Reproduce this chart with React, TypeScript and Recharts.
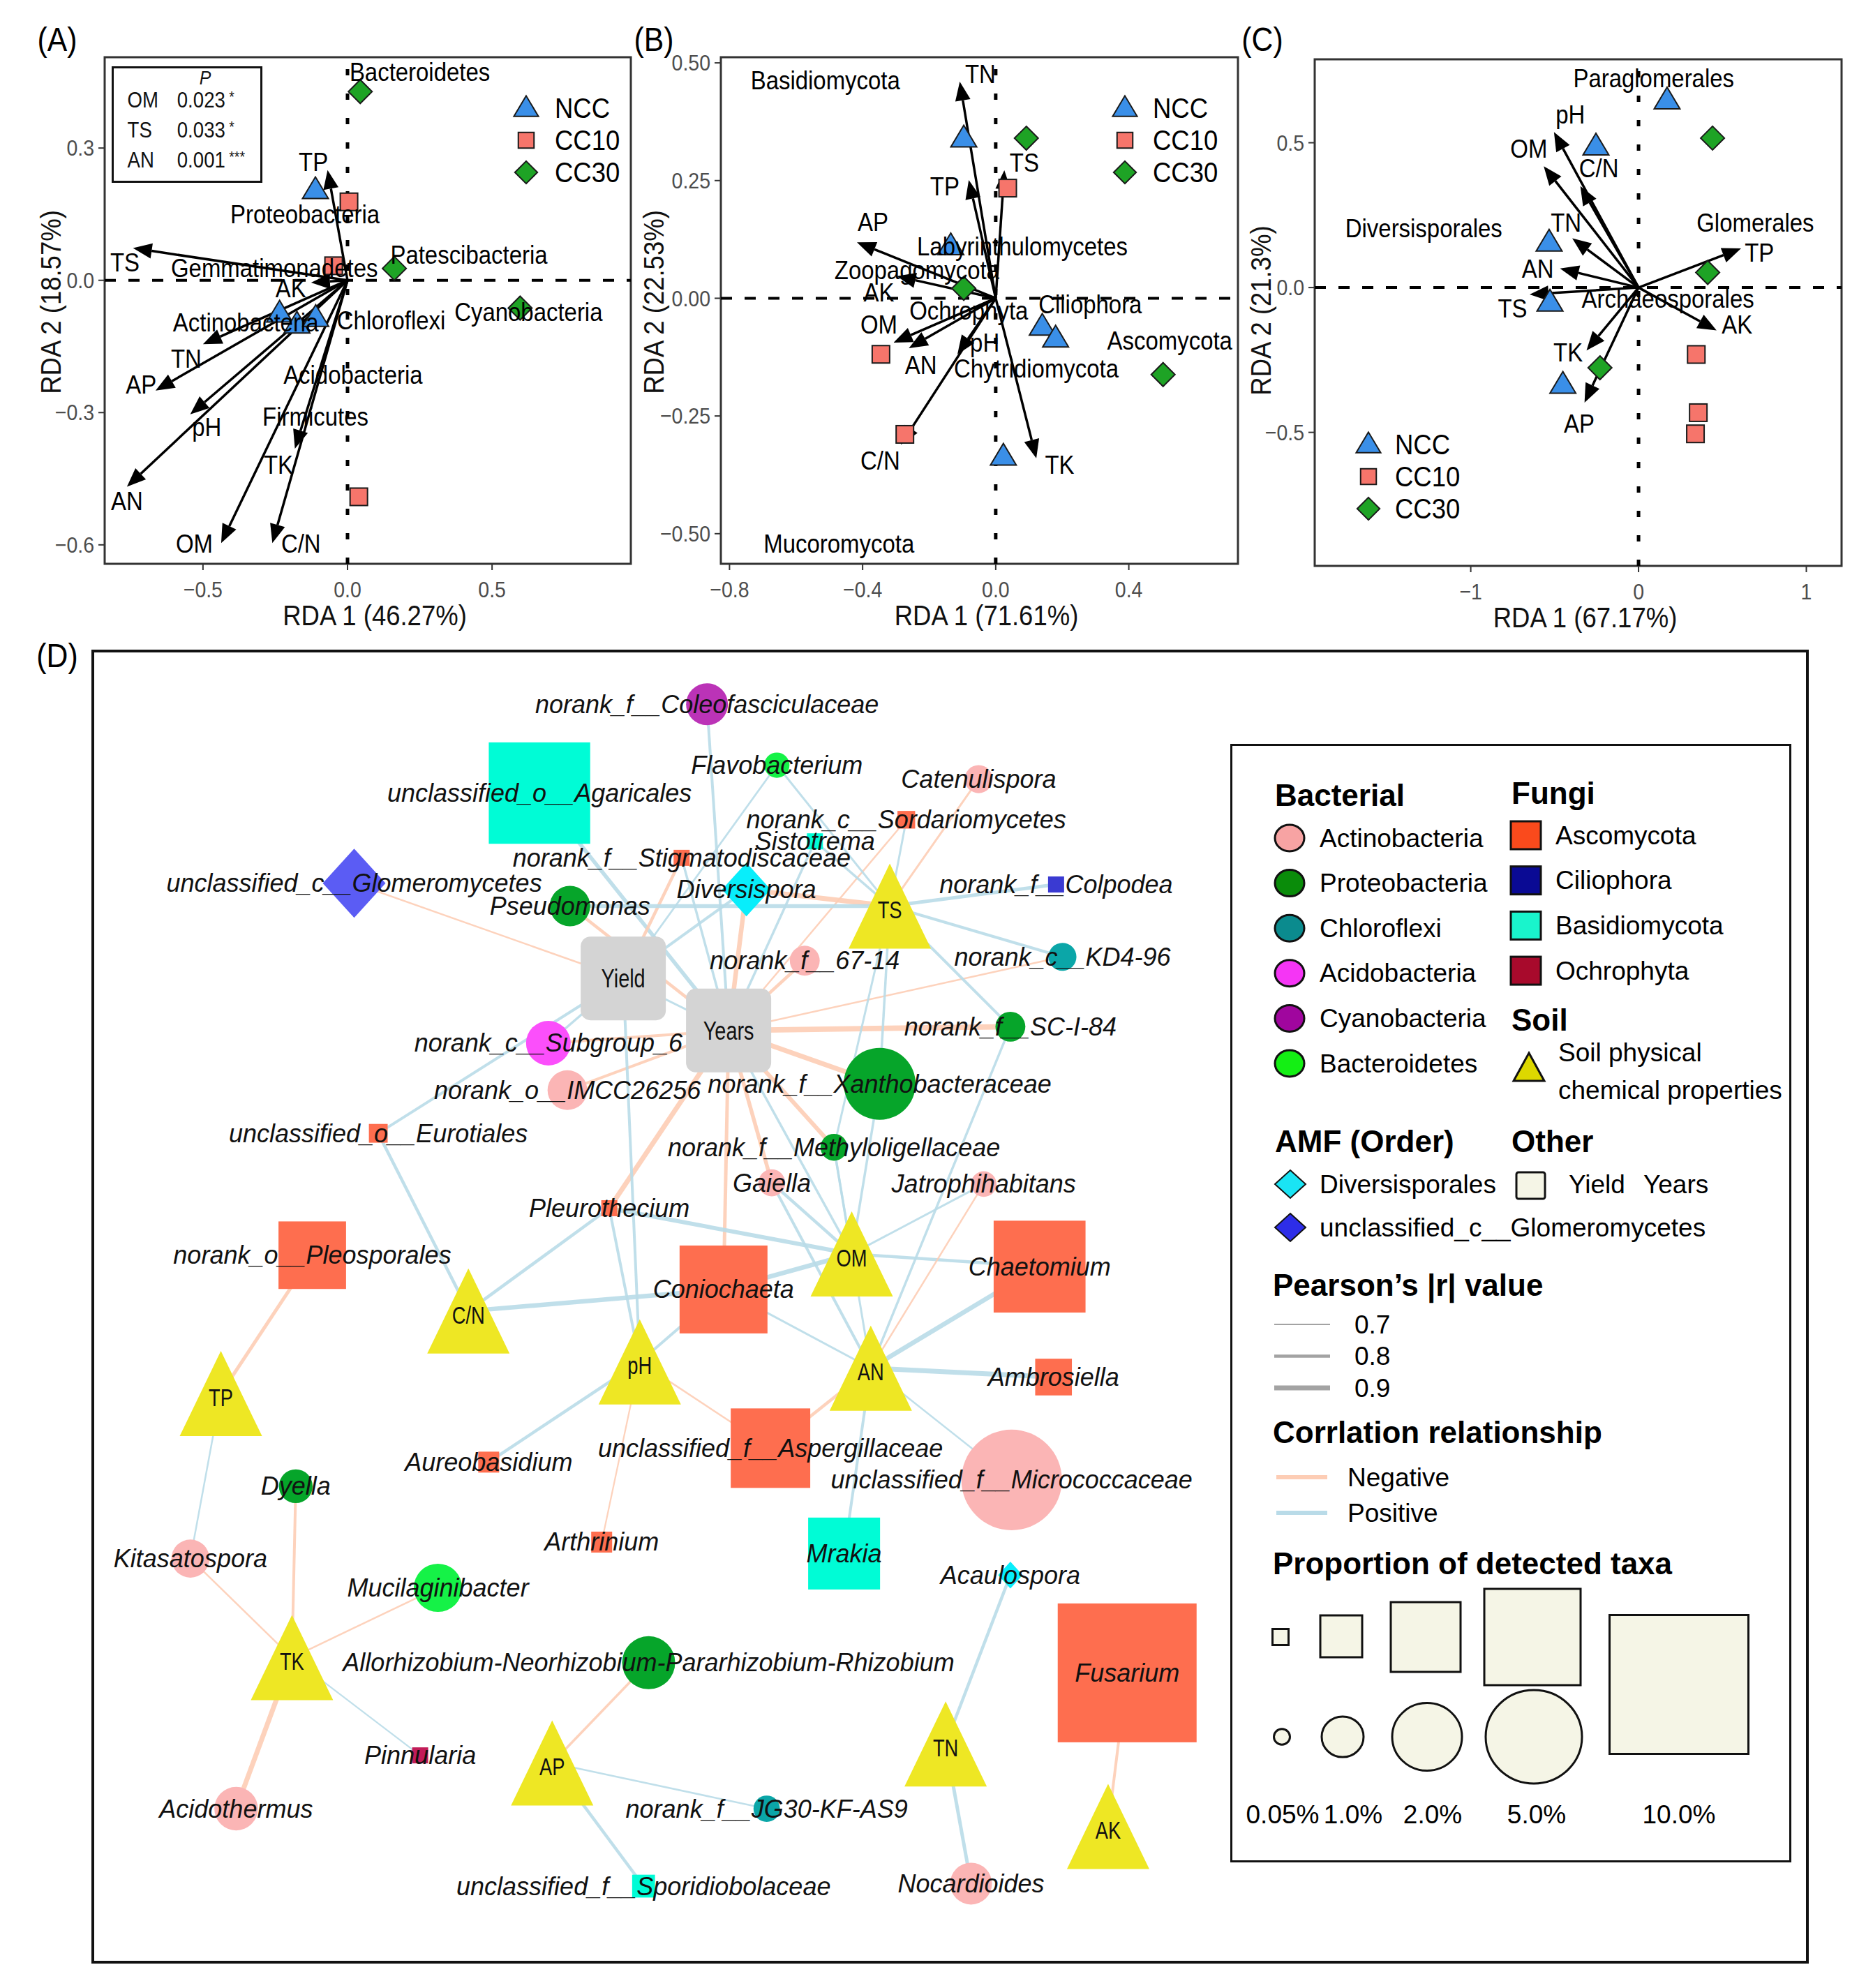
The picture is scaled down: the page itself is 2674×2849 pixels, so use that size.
import React from 'react'
import { Legend, ReferenceArea, ReferenceLine, Scatter, ScatterChart, XAxis, YAxis } from 'recharts'

const FONT = "'Liberation Sans', Arial, sans-serif"
const SX = 0.89 // the RDA panels are set in a slightly condensed face

type Pt = [number, number]
type Named = [string, number, number]

// ---------- (A) bacterial phyla RDA ----------
const A_NCC: Pt[] = [[-0.111, 0.205], [-0.235, -0.075], [-0.175, -0.1], [-0.11, -0.085]]
const A_CC10: Pt[] = [[0.005, 0.178], [-0.048, 0.033], [0.039, -0.491]]
const A_CC30: Pt[] = [[0.044, 0.428], [0.162, 0.027], [0.597, -0.063]]
const A_ARROWS: Named[] = [
  ['TP', -0.069, 0.25], ['TS', -0.742, 0.073], ['AK', -0.126, -0.005], ['TN', -0.5, -0.145], ['AP', -0.664, -0.25],
  ['pH', -0.544, -0.304], ['AN', -0.763, -0.468], ['OM', -0.437, -0.596], ['C/N', -0.26, -0.596], ['TK', -0.182, -0.382],
]
const A_ARROW_LABELS: Named[] = [
  ['TP', -0.118, 0.269], ['TS', -0.77, 0.041], ['AK', -0.196, -0.018], ['TN', -0.558, -0.177], ['AP', -0.714, -0.236],
  ['pH', -0.487, -0.332], ['AN', -0.763, -0.5], ['OM', -0.53, -0.596], ['C/N', -0.161, -0.596], ['TK', -0.239, -0.418],
]
const A_TAXA: Named[] = [
  ['Bacteroidetes', 0.25, 0.473], ['Proteobacteria', -0.147, 0.15], ['Patescibacteria', 0.42, 0.059],
  ['Gemmatimonadetes', -0.253, 0.028], ['Chloroflexi', 0.151, -0.091], ['Cyanobacteria', 0.626, -0.072],
  ['Actinobacteria', -0.352, -0.095], ['Acidobacteria', 0.019, -0.213], ['Firmicutes', -0.111, -0.309],
]
const A_PVALUES: [string, string, string][] = [['OM', '0.023', '*'], ['TS', '0.033', '*'], ['AN', '0.001', '***']]

// ---------- (B) fungal phyla RDA ----------
const B_NCC: Pt[] = [[-0.096, 0.34], [-0.135, 0.111], [0.14, -0.06], [0.18, -0.085], [0.023, -0.336]]
const B_CC10: Pt[] = [[0.036, 0.234], [-0.345, -0.119], [-0.273, -0.289]]
const B_CC30: Pt[] = [[0.092, 0.34], [-0.096, 0.021], [0.503, -0.162]]
const B_ARROWS: Named[] = [
  ['TN', -0.108, 0.46], ['TP', -0.081, 0.251], ['TS', 0.026, 0.272], ['AP', -0.417, 0.119], ['AK', -0.297, 0.047],
  ['OM', -0.307, -0.094], ['AN', -0.261, -0.106], ['pH', -0.115, -0.119], ['C/N', -0.285, -0.311], ['TK', 0.122, -0.34],
]
const B_ARROW_LABELS: Named[] = [
  ['TN', -0.046, 0.477], ['TS', 0.086, 0.289], ['TP', -0.153, 0.238], ['AP', -0.369, 0.162], ['AK', -0.351, 0.013],
  ['OM', -0.351, -0.055], ['pH', -0.033, -0.094], ['AN', -0.225, -0.142], ['C/N', -0.347, -0.345], ['TK', 0.192, -0.353],
]
const B_TAXA: Named[] = [
  ['Basidiomycota', -0.512, 0.464], ['Labyrinthulomycetes', 0.08, 0.111], ['Zoopagomycota', -0.237, 0.06],
  ['Ochrophyta', -0.081, -0.026], ['Ciliophora', 0.284, -0.013], ['Ascomycota', 0.523, -0.089],
  ['Chytridiomycota', 0.122, -0.149], ['Mucoromycota', -0.471, -0.52],
]

// ---------- (C) AMF orders RDA ----------
const C_NCC: Pt[] = [[0.17, 0.647], [-0.254, 0.488], [-0.533, 0.156], [-0.528, -0.051], [-0.451, -0.335]]
const C_CC10: Pt[] = [[0.344, -0.231], [0.356, -0.432], [0.339, -0.505]]
const C_CC30: Pt[] = [[0.441, 0.516], [0.412, 0.052], [-0.23, -0.277]]
const C_ARROWS: Named[] = [
  ['pH', -0.504, 0.537], ['OM', -0.565, 0.419], ['C/N', -0.347, 0.35], ['TN', -0.395, 0.17], ['AN', -0.468, 0.066],
  ['TS', -0.649, -0.024], ['TK', -0.31, -0.217], ['AP', -0.322, -0.397], ['AK', 0.465, -0.148], ['TP', 0.611, 0.135],
]
const C_ARROW_LABELS: Named[] = [
  ['pH', -0.407, 0.599], ['OM', -0.654, 0.481], ['C/N', -0.237, 0.412], ['TN', -0.432, 0.225], ['TP', 0.72, 0.122],
  ['AN', -0.601, 0.066], ['TS', -0.751, -0.072], ['AK', 0.587, -0.127], ['TK', -0.42, -0.224], ['AP', -0.354, -0.47],
]
const C_TAXA: Named[] = [
  ['Paraglomerales', 0.09, 0.723], ['Diversisporales', -1.28, 0.205], ['Glomerales', 0.696, 0.225], ['Archaeosporales', 0.175, -0.037],
]

const TREATMENTS = ['NCC', 'CC10', 'CC30']
const TREAT_FILL: Record<string, string> = { NCC: '#3a8fe8', CC10: '#f6756b', CC30: '#1ea325' }

// ---------- (D) co-occurrence network ----------
// [key, label, group, layoutX, layoutY, proportion %]
const D_NODES: [string, string, string, number, number, number][] = [
  ['coleo', 'norank_f__Coleofasciculaceae', 'Cya', 557, 555, 1.0],
  ['flavo', 'Flavobacterium', 'Bac', 612, 603, 0.39],
  ['caten', 'Catenulispora', 'Act', 771, 614, 0.49],
  ['sordar', 'norank_c__Sordariomycetes', 'Asc', 714, 646, 0.11],
  ['sisto', 'Sistotrema', 'Bas', 642, 663, 0.05],
  ['stigma', 'norank_f__Stigmatodiscaceae', 'Asc', 537, 676, 0.05],
  ['agari', 'unclassified_o__Agaricales', 'Bas', 425, 625, 5.6],
  ['glomero', 'unclassified_c__Glomeromycetes', 'Glo', 279, 696, 1.75],
  ['pseudo', 'Pseudomonas', 'Pro', 449, 714, 0.95],
  ['divers', 'Diversispora', 'Div', 588, 701, 1.25],
  ['TS', 'TS', 'Soil', 701, 714, 0],
  ['colpo', 'norank_f__Colpodea', 'Cil', 832, 697, 0.05],
  ['Yield', 'Yield', 'Other', 491, 771, 0],
  ['f6714', 'norank_f__67-14', 'Act', 634, 757, 0.56],
  ['kd496', 'norank_c__KD4-96', 'Chl', 837, 754, 0.49],
  ['Years', 'Years', 'Other', 574, 812, 0],
  ['sci84', 'norank_f__SC-I-84', 'Pro', 796, 809, 0.56],
  ['subg6', 'norank_c__Subgroup_6', 'Aci', 432, 822, 1.1],
  ['xantho', 'norank_f__Xanthobacteraceae', 'Pro', 693, 854, 2.24],
  ['imcc', 'norank_o__IMCC26256', 'Act', 447, 859, 0.92],
  ['eurot', 'unclassified_o__Eurotiales', 'Asc', 298, 893, 0.15],
  ['methyl', 'norank_f__Methyloligellaceae', 'Pro', 657, 904, 0.45],
  ['gaiella', 'Gaiella', 'Act', 608, 932, 0.45],
  ['jatro', 'Jatrophihabitans', 'Act', 775, 933, 0.4],
  ['pleuro', 'Pleurothecium', 'Asc', 480, 952, 0.05],
  ['pleosp', 'norank_o__Pleosporales', 'Asc', 246, 989, 1.92],
  ['CN', 'C/N', 'Soil', 369, 1033, 0],
  ['conio', 'Coniochaeta', 'Asc', 570, 1016, 4.05],
  ['OM', 'OM', 'Soil', 671, 988, 0],
  ['chaeto', 'Chaetomium', 'Asc', 819, 998, 4.5],
  ['TP', 'TP', 'Soil', 174, 1098, 0],
  ['pH', 'pH', 'Soil', 504, 1073, 0],
  ['AN', 'AN', 'Soil', 686, 1078, 0],
  ['ambro', 'Ambrosiella', 'Asc', 830, 1085, 0.81],
  ['asper', 'unclassified_f__Aspergillaceae', 'Asc', 607, 1141, 3.1],
  ['micro', 'unclassified_f__Micrococcaceae', 'Act', 797, 1166, 5.5],
  ['aureo', 'Aureobasidium', 'Asc', 385, 1152, 0.23],
  ['dyella', 'Dyella', 'Pro', 233, 1171, 0.7],
  ['kitas', 'Kitasatospora', 'Act', 150, 1228, 0.86],
  ['arthr', 'Arthrinium', 'Asc', 474, 1215, 0.23],
  ['mrakia', 'Mrakia', 'Bas', 665, 1224, 2.24],
  ['acaul', 'Acaulospora', 'Div', 796, 1241, 0.36],
  ['mucil', 'Mucilaginibacter', 'Bac', 345, 1251, 1.23],
  ['fusar', 'Fusarium', 'Asc', 888, 1318, 10],
  ['TK', 'TK', 'Soil', 230, 1306, 0],
  ['allor', 'Allorhizobium-Neorhizobium-Pararhizobium-Rhizobium', 'Pro', 511, 1310, 1.4],
  ['pinnu', 'Pinnularia', 'Och', 331, 1383, 0.05],
  ['AP', 'AP', 'Soil', 435, 1389, 0],
  ['TN', 'TN', 'Soil', 745, 1374, 0],
  ['acido', 'Acidothermus', 'Act', 186, 1425, 1.06],
  ['jg30', 'norank_f__JG30-KF-AS9', 'Chl', 604, 1425, 0.43],
  ['AK', 'AK', 'Soil', 873, 1439, 0],
  ['sporid', 'unclassified_f__Sporidiobolaceae', 'Bas', 507, 1486, 0.3],
  ['nocar', 'Nocardioides', 'Act', 765, 1484, 1.0],
]

// [from, to, Pearson r]
const D_EDGES: [string, string, number][] = [
  ['Years', 'sci84', -0.93], ['Years', 'xantho', -0.9], ['Years', 'methyl', -0.86], ['Years', 'conio', -0.82],
  ['Years', 'pleuro', -0.9], ['Years', 'kd496', -0.72], ['Years', 'divers', -0.88], ['Years', 'f6714', -0.8],
  ['Years', 'pseudo', -0.8], ['Years', 'subg6', -0.78], ['Years', 'imcc', -0.78], ['Years', 'sordar', -0.72],
  ['Years', 'gaiella', -0.84], ['Years', 'coleo', 0.78], ['Years', 'agari', 0.84], ['Years', 'sisto', 0.76],
  ['Years', 'stigma', 0.76], ['Years', 'OM', 0.76], ['Years', 'Yield', 0.74],
  ['Yield', 'glomero', -0.72], ['Yield', 'stigma', -0.8], ['Yield', 'divers', 0.78], ['Yield', 'eurot', 0.78],
  ['Yield', 'subg6', 0.76], ['Yield', 'pH', 0.78], ['Yield', 'flavo', 0.73],
  ['TS', 'divers', -0.9], ['TS', 'pseudo', 0.84], ['TS', 'colpo', 0.82], ['TS', 'kd496', 0.78], ['TS', 'sci84', 0.78],
  ['TS', 'flavo', 0.74], ['TS', 'caten', -0.74], ['TS', 'sisto', 0.76], ['TS', 'sordar', 0.74], ['TS', 'xantho', 0.76],
  ['TS', 'methyl', 0.74],
  ['OM', 'conio', 0.88], ['OM', 'chaeto', 0.8], ['OM', 'gaiella', 0.8], ['OM', 'xantho', 0.76], ['OM', 'pleuro', 0.86],
  ['OM', 'methyl', 0.76], ['OM', 'jatro', 0.74],
  ['AN', 'ambro', 0.9], ['AN', 'chaeto', 0.88], ['AN', 'asper', -0.8], ['AN', 'mrakia', 0.78], ['AN', 'micro', 0.72],
  ['AN', 'conio', 0.74], ['AN', 'gaiella', 0.78], ['AN', 'jatro', -0.72], ['AN', 'sci84', 0.76], ['AN', 'methyl', 0.74],
  ['pH', 'conio', 0.78], ['pH', 'aureo', 0.8], ['pH', 'pleuro', 0.78], ['pH', 'asper', -0.72], ['pH', 'arthr', -0.71],
  ['CN', 'conio', 0.88], ['CN', 'eurot', 0.8], ['CN', 'pleuro', 0.8],
  ['TP', 'pleosp', -0.82], ['TP', 'kitas', 0.72],
  ['TK', 'dyella', -0.78], ['TK', 'kitas', -0.72], ['TK', 'mucil', -0.72], ['TK', 'acido', -0.9], ['TK', 'pinnu', 0.71],
  ['AP', 'allor', -0.76], ['AP', 'jg30', 0.72], ['AP', 'sporid', 0.8],
  ['TN', 'acaul', 0.8], ['TN', 'nocar', 0.82], ['AK', 'fusar', -0.78],
]

const BACT_GROUPS: [string, string][] = [
  ['Actinobacteria', 'Act'], ['Proteobacteria', 'Pro'], ['Chloroflexi', 'Chl'],
  ['Acidobacteria', 'Aci'], ['Cyanobacteria', 'Cya'], ['Bacteroidetes', 'Bac'],
]
const FUNGI_GROUPS: [string, string][] = [['Ascomycota', 'Asc'], ['Ciliophora', 'Cil'], ['Basidiomycota', 'Bas'], ['Ochrophyta', 'Och']]
const AMF_GROUPS: [string, string][] = [['Diversisporales', 'Div'], ['unclassified_c__Glomeromycetes', 'Glo']]
const R_LEVELS = [0.7, 0.8, 0.9]
const PCT_LEVELS = [0.05, 1, 2, 5, 10]

const NODE_FILL: Record<string, string> = {
  Act: '#fbb5b5', Pro: '#06a52a', Chl: '#0ba6a8', Aci: '#fb4ffb', Cya: '#bb33b7', Bac: '#15f247',
  Asc: '#fe6e4f', Cil: '#3a3ad2', Bas: '#00fcd6', Och: '#c21c58', Div: '#08eefb', Glo: '#5b5cf4',
  Soil: '#eee724', Other: '#d4d4d4',
}
const KEY_FILL: Record<string, string> = {
  Act: '#f7a3a3', Pro: '#0a8c0a', Chl: '#0b8b8e', Aci: '#f535f5', Cya: '#a0069e', Bac: '#14ef14',
  Asc: '#fa4a1c', Cil: '#0a0a94', Bas: '#19f4cc', Och: '#a80a2c', Div: '#1ae4f4', Glo: '#2d2de8',
}
const POS = '#b9dbe8'
const NEG = '#fdcdb5'

// size scale for "Proportion of detected taxa" (px)
const PX_STOPS = [23, 60, 100, 138, 199]
function sizeOf(p: number) {
  if (p <= PCT_LEVELS[0]) return PX_STOPS[0]
  for (let i = 1; i < PCT_LEVELS.length; i++) {
    if (p <= PCT_LEVELS[i]) {
      const t = (p - PCT_LEVELS[i - 1]) / (PCT_LEVELS[i] - PCT_LEVELS[i - 1])
      return PX_STOPS[i - 1] + t * (PX_STOPS[i] - PX_STOPS[i - 1])
    }
  }
  return PX_STOPS[PX_STOPS.length - 1]
}
const edgeWidth = (r: number) => 2 + ((Math.abs(r) - 0.7) / 0.2) * 5

const fmt = (d: number) => (v: number) => (v < 0 ? '\u2212' : '') + Math.abs(v).toFixed(d)
const toPts = (a: Pt[]) => a.map(([x, y]) => ({ x, y }))
const toNamed = (a: Named[]) => a.map(([name, x, y]) => ({ name, x, y }))

// condensed svg text: drawn at the origin and squeezed horizontally
function NText({ x, y, size, children, anchor = 'middle', sx = SX, fill = '#000', rotate = 0, italic = false, bold = false }: any) {
  return (
    <text transform={`translate(${x},${y}) rotate(${rotate}) scale(${sx},1)`} x={0} y={0} textAnchor={anchor}
      dominantBaseline="central" fontSize={size} fontFamily={FONT} fill={fill}
      fontStyle={italic ? 'italic' : 'normal'} fontWeight={bold ? 'bold' : 'normal'}>
      {children}
    </text>
  )
}

function treatSymbol(t: string, cx: number, cy: number, k = 1) {
  if (t === 'NCC') {
    const w = 37 * k, h = 31 * k
    return <polygon points={`${cx},${cy - h * 0.6} ${cx - w / 2},${cy + h * 0.4} ${cx + w / 2},${cy + h * 0.4}`} fill={TREAT_FILL.NCC} stroke="#1a1a1a" strokeWidth={2} />
  }
  if (t === 'CC10') {
    const s = 25 * k
    return <rect x={cx - s / 2} y={cy - s / 2} width={s} height={s} fill={TREAT_FILL.CC10} stroke="#1a1a1a" strokeWidth={2} />
  }
  const d = 17 * k
  return <polygon points={`${cx},${cy - d} ${cx + d},${cy} ${cx},${cy + d} ${cx - d},${cy}`} fill={TREAT_FILL.CC30} stroke="#1a1a1a" strokeWidth={2} />
}

const arrowShape = (p: any) => {
  const { x1, y1, x2, y2 } = p
  const dx = x2 - x1, dy = y2 - y1
  const len = Math.hypot(dx, dy) || 1
  const ux = dx / len, uy = dy / len
  const hl = 27, hw = 11
  const bx = x2 - ux * hl, by = y2 - uy * hl
  return (
    <g>
      <line x1={x1} y1={y1} x2={bx} y2={by} stroke="#000" strokeWidth={3.5} />
      <polygon points={`${x2},${y2} ${bx - uy * hw},${by + ux * hw} ${bx + uy * hw},${by - ux * hw}`} fill="#000" />
    </g>
  )
}

const labelShape = (p: any) => <NText x={p.cx} y={p.cy} size={37}>{p.payload.name}</NText>

type RdaCfg = {
  box: { l: number; t: number; r: number; b: number }
  xDomain: [number, number]; yDomain: [number, number]
  xTicks: number[]; yTicks: number[]; xDec: number; yDec: number
  yAxisW: number; yTitleDy: number; xTitle: string; yTitle: string
  ncc: Pt[]; cc10: Pt[]; cc30: Pt[]
  arrows: Named[]; arrowLabels: Named[]; taxa: Named[]
  legend: { x: number; y: number; dx: number }
}

function RdaPanel({ c }: { c: RdaCfg }) {
  const LM = c.yAxisW + 10, TM = 10, RM = 16, XH = 150, BM = 10
  const boxW = c.box.r - c.box.l, boxH = c.box.b - c.box.t
  const width = boxW + LM + RM
  const height = boxH + TM + XH + BM
  const left = c.box.l - LM, top = c.box.t - TM
  const xf = fmt(c.xDec), yf = fmt(c.yDec)
  const xTick = (p: any) => <NText x={p.x} y={p.y + 16} size={32} fill="#4d4d4d">{xf(p.payload.value)}</NText>
  const yTick = (p: any) => <NText x={p.x} y={p.y} size={32} fill="#4d4d4d" anchor="end">{yf(p.payload.value)}</NText>
  return (
    <div style={{ position: 'absolute', left, top }}>
      <ScatterChart width={width} height={height} margin={{ top: TM, right: RM, bottom: BM, left: 10 }}>
        <XAxis type="number" dataKey="x" domain={c.xDomain} ticks={c.xTicks} allowDataOverflow interval={0}
          axisLine={false} tickLine={{ stroke: '#333', strokeWidth: 2 }} tickSize={9} tickMargin={12}
          tick={xTick} height={XH}
          label={{ content: () => <NText x={LM + boxW / 2 + 10} y={TM + boxH + 74} size={41} fill="#111">{c.xTitle}</NText> }} />
        <YAxis type="number" dataKey="y" domain={c.yDomain} ticks={c.yTicks} allowDataOverflow interval={0}
          axisLine={false} tickLine={{ stroke: '#333', strokeWidth: 2 }} tickSize={9} tickMargin={6}
          tick={yTick} width={c.yAxisW}
          label={{ content: () => <NText x={10 + c.yAxisW / 2} y={TM + boxH / 2 + c.yTitleDy} size={41} fill="#111" rotate={-90}>{c.yTitle}</NText> }} />
        <ReferenceArea x1={c.xDomain[0]} x2={c.xDomain[1]} y1={c.yDomain[0]} y2={c.yDomain[1]}
          fill="none" fillOpacity={0} stroke="#333" strokeWidth={3} ifOverflow="visible" />
        <ReferenceLine x={0} stroke="#000" strokeWidth={5} strokeDasharray="9 26" />
        <ReferenceLine y={0} stroke="#000" strokeWidth={4} strokeDasharray="16 18" />
        {c.arrows.map(([name, x, y]) => (
          <ReferenceLine key={name} segment={[{ x: 0, y: 0 }, { x, y }]} shape={arrowShape} ifOverflow="visible" />
        ))}
        <Scatter data={toPts(c.ncc)} isAnimationActive={false} shape={(p: any) => treatSymbol('NCC', p.cx, p.cy)} />
        <Scatter data={toPts(c.cc10)} isAnimationActive={false} shape={(p: any) => treatSymbol('CC10', p.cx, p.cy)} />
        <Scatter data={toPts(c.cc30)} isAnimationActive={false} shape={(p: any) => treatSymbol('CC30', p.cx, p.cy)} />
        <Scatter data={toNamed(c.taxa)} isAnimationActive={false} shape={labelShape} />
        <Scatter data={toNamed(c.arrowLabels)} isAnimationActive={false} shape={labelShape} />
        <Legend layout="horizontal" verticalAlign="middle" align="center"
          wrapperStyle={{ left: c.legend.x - 25 - left, top: c.legend.y - 25 - top, width: 220, height: 150 }}
          content={() => (
            <svg width={220} height={150}>
              {TREATMENTS.map((t, i) => (
                <g key={t}>
                  {treatSymbol(t, 25, 25 + i * 46, t === 'CC10' ? 0.9 : 0.95)}
                  <NText x={25 + c.legend.dx} y={25 + i * 46} size={41} anchor="start">{t}</NText>
                </g>
              ))}
            </svg>
          )} />
      </ScatterChart>
    </div>
  )
}

const PANEL_A: RdaCfg = {
  box: { l: 150, t: 82, r: 904, b: 808 }, xDomain: [-0.84, 0.98], yDomain: [-0.643, 0.506],
  xTicks: [-0.5, 0, 0.5], yTicks: [-0.6, -0.3, 0, 0.3], xDec: 1, yDec: 1, yAxisW: 154, yTitleDy: -12,
  xTitle: 'RDA 1 (46.27%)', yTitle: 'RDA 2 (18.57%)',
  ncc: A_NCC, cc10: A_CC10, cc30: A_CC30, arrows: A_ARROWS, arrowLabels: A_ARROW_LABELS, taxa: A_TAXA,
  legend: { x: 754, y: 155, dx: 41 },
}
const PANEL_B: RdaCfg = {
  box: { l: 1033, t: 82, r: 1774, b: 808 }, xDomain: [-0.826, 0.728], yDomain: [-0.564, 0.512],
  xTicks: [-0.8, -0.4, 0, 0.4], yTicks: [-0.5, -0.25, 0, 0.25, 0.5], xDec: 1, yDec: 2, yAxisW: 192, yTitleDy: -12,
  xTitle: 'RDA 1 (71.61%)', yTitle: 'RDA 2 (22.53%)',
  ncc: B_NCC, cc10: B_CC10, cc30: B_CC30, arrows: B_ARROWS, arrowLabels: B_ARROW_LABELS, taxa: B_TAXA,
  legend: { x: 1612, y: 155, dx: 40 },
}
const PANEL_C: RdaCfg = {
  box: { l: 1884, t: 85, r: 2639, b: 811 }, xDomain: [-1.93, 1.21], yDomain: [-0.961, 0.788],
  xTicks: [-1, 0, 1], yTicks: [-0.5, 0, 0.5], xDec: 0, yDec: 1, yAxisW: 154, yTitleDy: -3,
  xTitle: 'RDA 1 (67.17%)', yTitle: 'RDA 2 (21.3%)',
  ncc: C_NCC, cc10: C_CC10, cc30: C_CC30, arrows: C_ARROWS, arrowLabels: C_ARROW_LABELS, taxa: C_TAXA,
  legend: { x: 1961, y: 637, dx: 38 },
}

const SHAPE_OF: Record<string, string> = {
  Act: 'circle', Pro: 'circle', Chl: 'circle', Aci: 'circle', Cya: 'circle', Bac: 'circle',
  Asc: 'square', Cil: 'square', Bas: 'square', Och: 'square', Div: 'diamond', Glo: 'diamond',
  Soil: 'triangle', Other: 'rounded',
}

const nodeShape = (p: any) => {
  const n = p.payload
  const { cx, cy } = p
  const fill = NODE_FILL[n.group]
  const kind = SHAPE_OF[n.group]
  if (kind === 'triangle') {
    return (
      <g>
        <polygon points={`${cx},${cy - 61} ${cx - 59},${cy + 61} ${cx + 59},${cy + 61}`} fill={fill} />
        <NText x={cx} y={cy + 6} size={35} sx={0.78} fill="#111">{n.label}</NText>
      </g>
    )
  }
  if (kind === 'rounded') {
    return (
      <g>
        <rect x={cx - 61} y={cy - 60} width={122} height={120} rx={14} fill={fill} />
        <NText x={cx} y={cy} size={37} sx={0.78} fill="#111">{n.label}</NText>
      </g>
    )
  }
  const s = sizeOf(n.pct)
  if (kind === 'circle') return <circle cx={cx} cy={cy} r={s / 2} fill={fill} />
  if (kind === 'square') return <rect x={cx - s / 2} y={cy - s / 2} width={s} height={s} fill={fill} />
  const h = s * 0.55
  return <polygon points={`${cx},${cy - h} ${cx + s / 2},${cy} ${cx},${cy + h} ${cx - s / 2},${cy}`} fill={fill} />
}

const taxonLabel = (p: any) => (
  <NText x={p.cx} y={p.cy} size={36} sx={1} italic fill="#111">{p.payload.label}</NText>
)

function NetLegend() {
  const title = (x: number, y: number, s: string) => <NText x={x} y={y} size={44} sx={1} bold anchor="start">{s}</NText>
  const item = (x: number, y: number, s: string) => <NText x={x} y={y} size={37} sx={1} anchor="start">{s}</NText>
  const sqX = [72, 159, 280, 433, 643]
  const sqY = [1280, 1279, 1280, 1280, 1348]
  const lblX = [75, 176, 290, 439, 643]
  return (
    <svg width={806} height={1606}>
      <rect x={1.5} y={1.5} width={801} height={1600} fill="#fff" stroke="#111" strokeWidth={3} />
      {title(64, 73, 'Bacterial')}
      {BACT_GROUPS.map(([name, g], i) => (
        <g key={g}>
          <ellipse cx={85} cy={135 + i * 64.6} rx={21} ry={19} fill={KEY_FILL[g]} stroke="#111" strokeWidth={3} />
          {item(128, 135 + i * 64.6, name)}
        </g>
      ))}
      {title(403, 70, 'Fungi')}
      {FUNGI_GROUPS.map(([name, g], i) => (
        <g key={g}>
          <rect x={402} y={111 + i * 64.7} width={43} height={40} fill={KEY_FILL[g]} stroke="#111" strokeWidth={3} />
          {item(466, 131 + i * 64.7, name)}
        </g>
      ))}
      {title(403, 395, 'Soil')}
      <polygon points="428,443 450,483 406,483" fill="#ddd800" stroke="#111" strokeWidth={3} />
      {item(470, 442, 'Soil physical')}
      {item(470, 496, 'chemical properties')}
      {title(64, 569, 'AMF (Order)')}
      {AMF_GROUPS.map(([name, g], i) => (
        <g key={g}>
          <polygon points={`86,${611 + i * 62} 108,${631 + i * 62} 86,${651 + i * 62} 64,${631 + i * 62}`} fill={KEY_FILL[g]} stroke="#111" strokeWidth={2} />
          {item(128, 631 + i * 62, name)}
        </g>
      ))}
      {title(403, 569, 'Other')}
      <rect x={410} y={614} width={41} height={38} rx={3} fill="#f5f5e6" stroke="#111" strokeWidth={3} />
      {item(485, 631, 'Yield')}
      {item(592, 631, 'Years')}
      {title(61, 775, 'Pearson\u2019s |r| value')}
      {R_LEVELS.map((r, i) => (
        <g key={r}>
          <line x1={63} x2={143} y1={832 + i * 45.5} y2={832 + i * 45.5} stroke="#a3a3a3" strokeWidth={edgeWidth(r)} />
          {item(178, 832 + i * 45.5, r.toFixed(1))}
        </g>
      ))}
      {title(61, 986, 'Corrlation relationship')}
      <line x1={66} x2={139} y1={1051} y2={1051} stroke={NEG} strokeWidth={6} />
      {item(168, 1051, 'Negative')}
      <line x1={66} x2={139} y1={1102} y2={1102} stroke={POS} strokeWidth={6} />
      {item(168, 1102, 'Positive')}
      {title(61, 1174, 'Proportion of detected taxa')}
      {PCT_LEVELS.map((p, i) => {
        const s = sizeOf(p)
        return (
          <g key={p}>
            <rect x={sqX[i] - s / 2} y={sqY[i] - s / 2} width={s} height={s} fill="#f5f5e6" stroke="#111" strokeWidth={3} />
            {i < 4 && <ellipse cx={sqX[i] + 2} cy={1423} rx={s / 2} ry={(s / 2) * 0.97} fill="#f5f5e6" stroke="#111" strokeWidth={3} />}
            <NText x={lblX[i]} y={1534} size={37} sx={1}>{p === 0.05 ? '0.05%' : p.toFixed(1) + '%'}</NText>
          </g>
        )
      })}
    </svg>
  )
}

const D_BOX = { l: 131, t: 931, w: 2461, h: 1883 }
const LAYOUT_X: [number, number] = [72, 1425]
const LAYOUT_Y: [number, number] = [512, 1547]

function NetworkPanel() {
  const nodes = D_NODES.map(([key, label, group, x, y, pct]) => ({ key, label, group, x, y, pct }))
  const byKey: Record<string, { x: number; y: number }> = {}
  nodes.forEach((n) => { byKey[n.key] = n })
  const taxa = nodes.filter((n) => n.group !== 'Soil' && n.group !== 'Other')
  return (
    <>
      <div style={{ position: 'absolute', left: D_BOX.l, top: D_BOX.t }}>
        <ScatterChart width={D_BOX.w} height={D_BOX.h} margin={{ top: 0, right: 0, bottom: 0, left: 0 }}>
          <XAxis type="number" dataKey="x" domain={LAYOUT_X} allowDataOverflow hide />
          <YAxis type="number" dataKey="y" domain={LAYOUT_Y} allowDataOverflow hide reversed />
          {D_EDGES.map(([a, b, r], i) => (
            <ReferenceLine key={i} segment={[{ x: byKey[a].x, y: byKey[a].y }, { x: byKey[b].x, y: byKey[b].y }]}
              stroke={r < 0 ? NEG : POS} strokeWidth={edgeWidth(r)} strokeOpacity={0.9} ifOverflow="visible" />
          ))}
          <Scatter data={nodes} isAnimationActive={false} shape={nodeShape} />
          <Scatter data={taxa} isAnimationActive={false} shape={taxonLabel} />
          <Legend layout="horizontal" verticalAlign="middle" align="center"
            wrapperStyle={{ left: 1763 - D_BOX.l, top: 1066 - D_BOX.t, width: 806, height: 1606 }}
            content={() => <NetLegend />} />
        </ScatterChart>
      </div>
      <div style={{ position: 'absolute', left: D_BOX.l, top: D_BOX.t, width: D_BOX.w, height: D_BOX.h, border: '4px solid #111', boxSizing: 'border-box', pointerEvents: 'none' }} />
    </>
  )
}

function PanelTag({ x, y, s }: { x: number; y: number; s: string }) {
  return (
    <div style={{ position: 'absolute', left: x - 40, top: y - 30, width: 80, textAlign: 'center', fontSize: 48, lineHeight: '60px', fontFamily: FONT, transform: `scaleX(${SX})` }}>{s}</div>
  )
}

function PTable() {
  return (
    <div style={{ position: 'absolute', left: 160, top: 95, width: 216, height: 167, border: '3px solid #111', boxSizing: 'border-box', fontFamily: FONT, fontSize: 31, color: '#111' }}>
      <div style={{ position: 'absolute', left: 0, top: 0, width: 216, height: 161, transform: `scaleX(${SX})`, transformOrigin: '0 0' }}>
        <div style={{ position: 'absolute', left: 138, top: -2, fontStyle: 'italic', fontSize: 28 }}>P</div>
        {A_PVALUES.map(([v, p, s], i) => (
          <div key={v} style={{ position: 'absolute', top: 28 + i * 43, left: 22, whiteSpace: 'nowrap' }}>
            <span style={{ display: 'inline-block', width: 80 }}>{v}</span>
            <span>{p}</span>
            <span style={{ fontSize: 22, verticalAlign: 'top', marginLeft: 6 }}>{s}</span>
          </div>
        ))}
      </div>
    </div>
  )
}

export default function App() {
  return (
    <div style={{ position: 'relative', width: 2674, height: 2849, background: '#fff', overflow: 'hidden', fontFamily: FONT }}>
      <style>{'body{margin:0;background:#fff}'}</style>
      <RdaPanel c={PANEL_A} />
      <RdaPanel c={PANEL_B} />
      <RdaPanel c={PANEL_C} />
      <PTable />
      <PanelTag x={82} y={57} s="(A)" />
      <PanelTag x={937} y={57} s="(B)" />
      <PanelTag x={1809} y={57} s="(C)" />
      <PanelTag x={82} y={940} s="(D)" />
      <NetworkPanel />
    </div>
  )
}
